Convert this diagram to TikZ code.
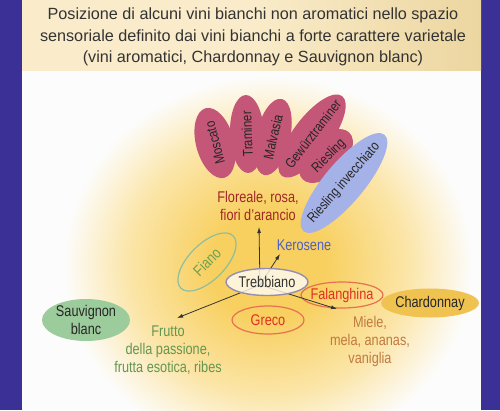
\documentclass[tikz,border=0pt]{standalone}
\usepackage{fontspec}
\setmainfont{Liberation Sans}
\newfontfamily\cond[FakeStretch=0.82]{Liberation Sans}
\usetikzlibrary{arrows.meta,shapes.geometric}
\definecolor{frame}{RGB}{58,48,150}
\definecolor{beigeL}{RGB}{250,236,202}
\definecolor{beigeR}{RGB}{236,214,160}
\definecolor{blobc}{RGB}{248,208,96}
\definecolor{petal}{RGB}{196,86,120}
\definecolor{rinv}{RGB}{165,178,232}
\definecolor{flor}{RGB}{160,40,40}
\definecolor{kero}{RGB}{80,96,192}
\definecolor{fiano}{RGB}{140,190,160}
\definecolor{fianot}{RGB}{110,160,80}
\definecolor{fala}{RGB}{232,112,80}
\definecolor{falat}{RGB}{224,48,32}
\definecolor{trebb}{RGB}{150,140,178}
\definecolor{sauv}{RGB}{156,203,156}
\definecolor{frutt}{RGB}{100,150,80}
\definecolor{chard}{RGB}{240,194,80}
\definecolor{miele}{RGB}{192,122,64}
\pgfdeclareradialshading{blob}{\pgfpoint{0bp}{0bp}}{color(0bp)=(blobc); color(7bp)=(blobc); color(17bp)=(blobc!55!white); color(25bp)=(white!98!gray); color(50bp)=(white!98!gray)}
\tikzset{
  petalnode/.style={ellipse, fill=petal, inner sep=0pt},
  lab/.style={font=\cond\fontsize{15.5}{18}\selectfont, align=center},
  plab/.style={font=\cond\fontsize{14}{17}\selectfont, text=black!85},
  axis/.style={-{Latex[length=6pt,width=4pt]}, line width=0.8pt, draw=black!80},
}
\begin{document}
\begin{tikzpicture}[x=1pt,y=-1pt]
\useasboundingbox (0,0) rectangle (500,410);
\fill[frame] (0,0) rectangle (500,410);
\fill[white!98!gray] (22,0) rectangle (481,410);
\begin{scope}
\clip (22,70) rectangle (481,410);
\shade[shading=blob] (268,265) ellipse [x radius=205, y radius=190];
\end{scope}
\shade[left color=beigeL, right color=beigeR, middle color=beigeL] (22,0) rectangle (481,70);
\node[font=\fontsize{16.2}{21.5}\selectfont, text=black!80, align=center] (title) at (253,37)
  {Posizione di alcuni vini bianchi non aromatici nello spazio\\
   sensoriale definito dai vini bianchi a forte carattere varietale\\
   (vini aromatici, Chardonnay e Sauvignon blanc)};
% petals
\node[petalnode, minimum width=72pt, minimum height=38pt, rotate=105] (mos) at (215,143) {};
\node[petalnode, minimum width=78pt, minimum height=34pt, rotate=92] (tra) at (247,134) {};
\node[petalnode, minimum width=78pt, minimum height=34pt, rotate=77] (mal) at (273,137) {};
\node[petalnode, minimum width=100pt, minimum height=38pt, rotate=53] (gew) at (312,136) {};
\node[petalnode, minimum width=66pt, minimum height=38pt, rotate=45] (rie) at (326,156) {};
\node[ellipse, fill=rinv, inner sep=0pt, minimum width=126pt, minimum height=40pt, rotate=50] (rinvn) at (344,183) {};
\node[plab, rotate=105] (mosT) at (mos) {Moscato};
\node[plab, rotate=92] (traT) at (tra) {Traminer};
\node[plab, rotate=77] (malT) at (mal) {Malvasia};
\node[plab, rotate=52] (gewT) at (313,134) {Gewürztraminer};
\node[plab, rotate=45] (rieT) at (329,156) {Riesling};
\node[plab, rotate=49] (rinvT) at (rinvn) {Riesling invecchiato};
% labels
\node[lab, text=flor] (flo) at (258,206) {Floreale, rosa,\\fiori d’arancio};
\node[lab, text=kero] (ker) at (304,245) {Kerosene};
% ellipses
\node[ellipse, draw=fiano, line width=1.2pt, minimum width=74pt, minimum height=36pt, rotate=45] (fia) at (207,262) {};
\node[lab, text=fianot, rotate=45] (fiaT) at (fia) {Fiano};
\node[ellipse, draw=fala, line width=1.2pt, minimum width=72pt, minimum height=28pt] (gre) at (268,320) {};
\node[lab, text=falat] (greT) at (gre) {Greco};
% axes
\coordinate (o) at (260,285);
\coordinate (up) at (259,227);
\coordinate (ke) at (280,254);
\coordinate (ll) at (177,318);
\coordinate (lr) at (337,309);
\draw[axis] (o) -- (up);
\draw[axis] (o) -- (ke);
\draw[axis] (o) -- (ll);
\node[ellipse, draw=fala, line width=1.2pt, minimum width=82pt, minimum height=26pt, inner sep=0pt] (fal) at (342,295) {};
\node[lab, text=falat] (falT) at (fal) {Falanghina};
\draw[axis] (o) -- (lr);
\node[ellipse, draw=trebb, line width=1.4pt, fill=white!85!beigeL, fill opacity=0.8, text opacity=1, minimum width=82pt, minimum height=27pt, inner sep=0pt, lab, text=black!80] (tre) at (267,282) {Trebbiano};
% side
\node[ellipse, fill=sauv, minimum width=88pt, minimum height=42pt, inner sep=0pt, lab, text=black!85] (sau) at (86,320) {Sauvignon\\blanc};
\node[lab, text=frutt] (fru) at (168,350) {Frutto\\della passione,\\frutta esotica, ribes};
\node[ellipse, fill=chard, minimum width=74pt, minimum height=29pt, inner sep=0pt, lab, text=black!85] (cha) at (430,303) {Chardonnay};
\node[lab, text=miele] (mie) at (370,341) {Miele,\\mela, ananas,\\vaniglia};
\end{tikzpicture}
\end{document}
